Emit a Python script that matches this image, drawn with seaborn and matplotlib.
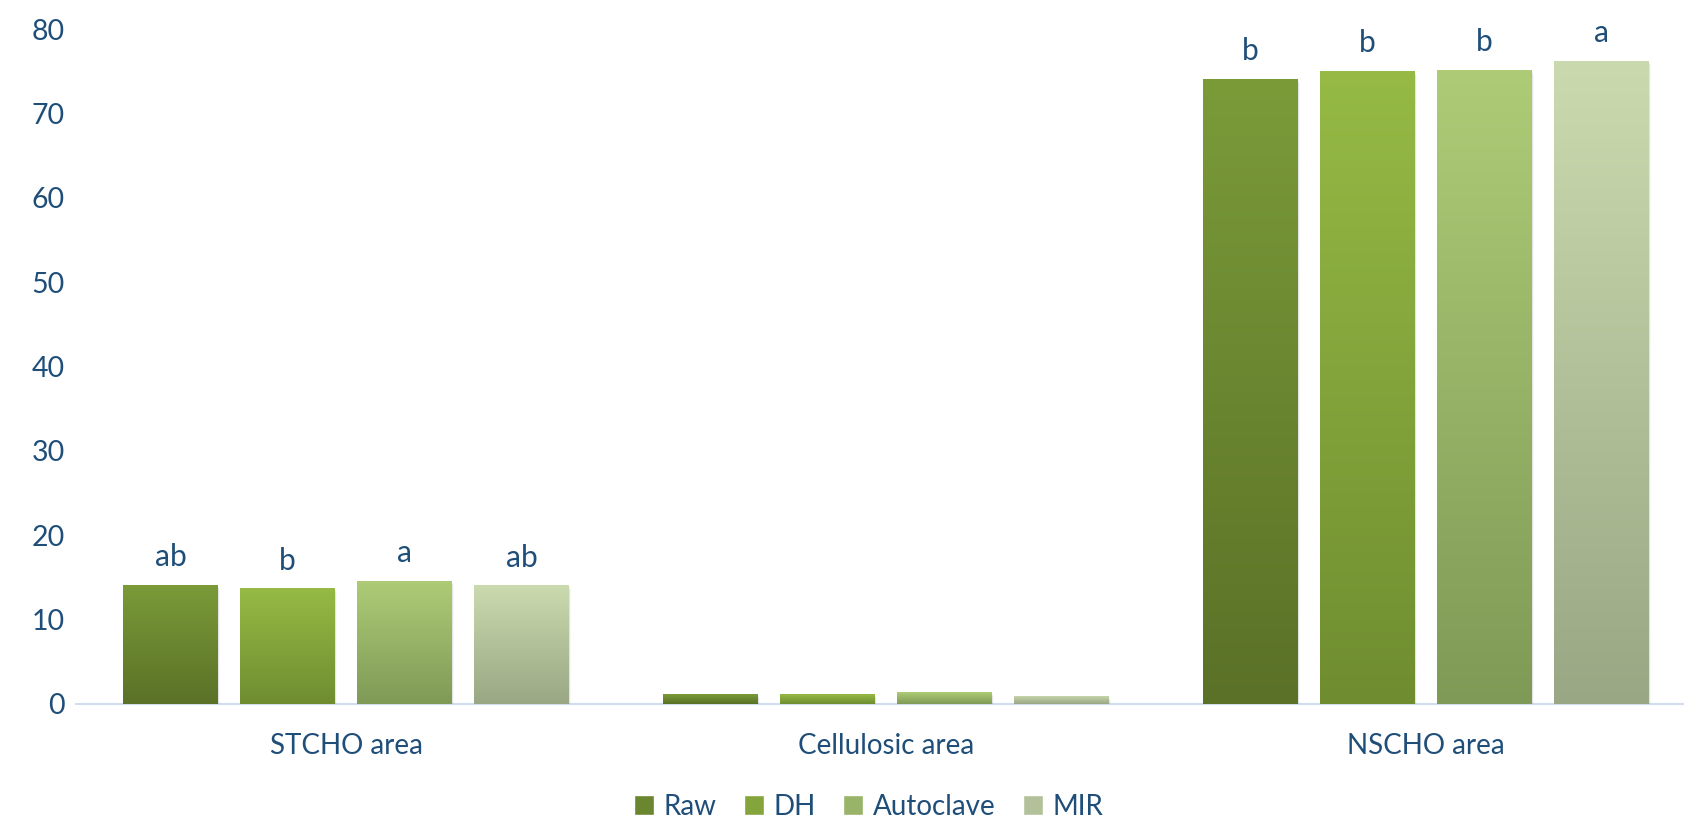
import numpy as np
import pandas as pd
import matplotlib
matplotlib.use("Agg")
import matplotlib.pyplot as plt
import seaborn as sns
from matplotlib.colors import to_rgb
from matplotlib.transforms import offset_copy

# ---- data ----
categories = ["STCHO area", "Cellulosic area", "NSCHO area"]
treatments = ["Raw", "DH", "Autoclave", "MIR"]
raw_vals = [14.15, 1.15, 74.1]
dh_vals = [13.7, 1.15, 75.0]
autoclave_vals = [14.6, 1.4, 75.2]
mir_vals = [14.05, 1.0, 76.2]
raw_letters = ["ab", "", "b"]
dh_letters = ["b", "", "b"]
autoclave_letters = ["a", "", "b"]
mir_letters = ["ab", "", "a"]
yticks = [0, 10, 20, 30, 40, 50, 60, 70, 80]

values = {"Raw": raw_vals, "DH": dh_vals, "Autoclave": autoclave_vals, "MIR": mir_vals}
letters = {"Raw": raw_letters, "DH": dh_letters, "Autoclave": autoclave_letters, "MIR": mir_letters}

rows = []
for t in treatments:
    for c, v in zip(categories, values[t]):
        rows.append({"Area": c, "Treatment": t, "Value": v})
df = pd.DataFrame(rows)

# colours (top, bottom) of gradients
grad = {
    "Raw": ("#7b9b39", "#5a7127"),
    "DH": ("#96ba45", "#6f8d30"),
    "Autoclave": ("#aecc77", "#7f9a56"),
    "MIR": ("#cbdaae", "#99a784"),
}
palette = {"Raw": "#6a862f", "DH": "#84a53b", "Autoclave": "#98b468", "MIR": "#b3c19a"}
text_color = "#1f4e79"

sns.set_theme(style="white")
plt.rcParams["font.family"] = ["Lato", "DejaVu Sans"]

W, H = 1684, 825
fig = plt.figure(figsize=(W / 100, H / 100), dpi=100)
ax_left, ax_right = 76 / W, 1.0
ax_bottom, ax_top = (H - 704) / H, (H - 29) / H
ax = fig.add_axes([ax_left, ax_bottom, ax_right - ax_left, ax_top - ax_bottom])

sns.barplot(data=df, x="Area", y="Value", hue="Treatment", order=categories,
            hue_order=treatments, palette=palette, width=0.867, gap=0.19,
            ax=ax, legend=True, saturation=1)

xlim = (-0.5, 2.478)
ylim = (0, 80)

# gradient fill + shadow, and letters
for cont, t in zip(ax.containers, treatments):
    top_c, bot_c = to_rgb(grad[t][0]), to_rgb(grad[t][1])
    g = np.linspace(0, 1, 256)[:, None, None]
    img = (1 - g) * np.array(top_c) + g * np.array(bot_c)
    for bar, lab in zip(cont.patches, letters[t]):
        x0 = bar.get_x()
        w = bar.get_width()
        h = bar.get_height()
        for k, a in [(4, 0.05), (3, 0.07), (2, 0.09)]:
            sh = plt.Rectangle((x0, 0), w, h,
                               transform=offset_copy(ax.transData, fig=fig, x=k * 0.5, y=-k, units="dots"),
                               facecolor="#808080", alpha=a, edgecolor="none", zorder=1)
            ax.add_patch(sh)
        im = ax.imshow(img, extent=[x0, x0 + w, 0, h], origin="upper", aspect="auto", zorder=2)
        im.set_clip_path(bar)
        bar.set_facecolor("none")
        bar.set_edgecolor("none")
        bar.set_zorder(2)
        if lab:
            ax.annotate(lab, (x0 + w / 2, h), xytext=(0, 13.5), textcoords="offset points",
                        ha="center", va="baseline", fontsize=21.5, color=text_color)

ax.set_aspect("auto")
ax.set_xlim(*xlim)
ax.set_ylim(*ylim)
ax.set_yticks(yticks)
ax.set_yticklabels([str(v) for v in yticks])
ax.set_xlabel("")
ax.set_ylabel("")
for s in ["top", "right", "left"]:
    ax.spines[s].set_visible(False)
ax.spines["bottom"].set_color("#d0def0")
ax.spines["bottom"].set_linewidth(1.5)
ax.spines["bottom"].set_zorder(0.5)
ax.tick_params(axis="y", length=0, pad=8, labelsize=20.5, labelcolor=text_color)
ax.tick_params(axis="x", length=0, pad=21, labelsize=20, labelcolor=text_color)
ax.grid(False)

sns.move_legend(ax, "center", bbox_to_anchor=(0.493, -0.152), ncol=4, frameon=False,
                title=None, fontsize=20, handlelength=0.7, handleheight=0.7,
                handletextpad=0.35, columnspacing=1.0, labelcolor=text_color)

fig.savefig("out.png", dpi=100)
